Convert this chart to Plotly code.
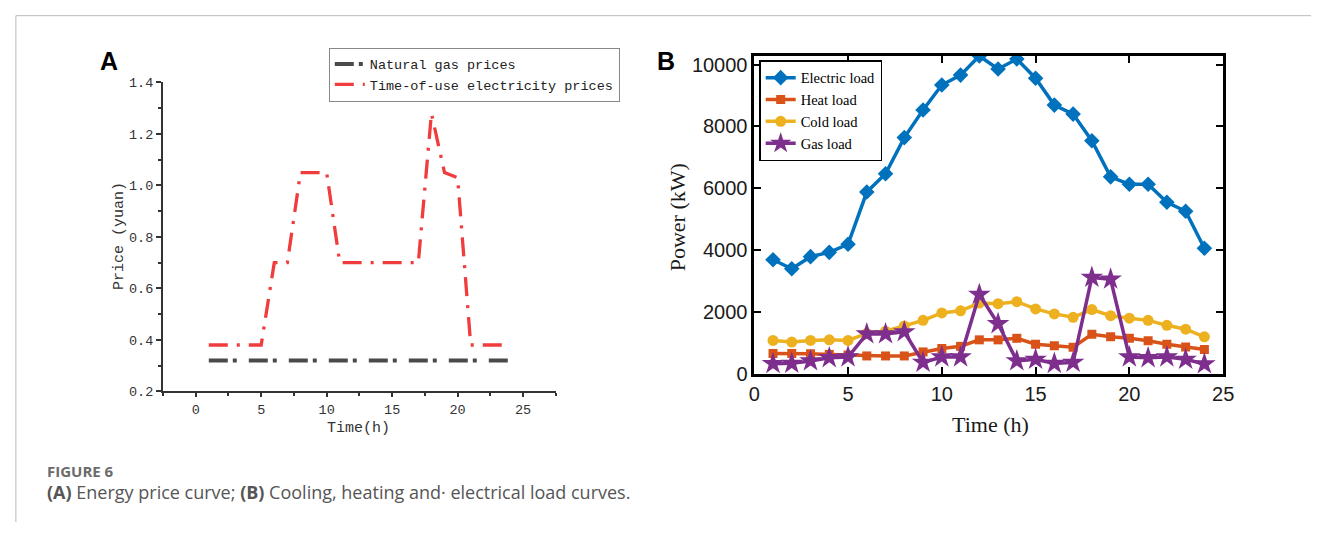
import plotly.graph_objects as go

W, H = 1322, 533

# ---------------- data ----------------
hours = list(range(1, 25))
gas_price = [0.32] * 24
elec_price = [0.38, 0.38, 0.38, 0.38, 0.38, 0.70, 0.70, 1.05, 1.05, 1.05, 0.70, 0.70,
              0.70, 0.70, 0.70, 0.70, 0.70, 1.28, 1.05, 1.03, 0.38, 0.38, 0.38, 0.38]

electric_load = [3690, 3400, 3790, 3930, 4190, 5880, 6470, 7640, 8530, 9340, 9660, 10280,
                 9860, 10180, 9560, 8690, 8400, 7540, 6370, 6130, 6130, 5550, 5260, 4060]
heat_load = [660, 660, 650, 630, 610, 580, 580, 580, 710, 820, 890, 1100,
             1100, 1150, 960, 910, 860, 1280, 1200, 1150, 1070, 960, 870, 790]
cold_load = [1080, 1030, 1080, 1100, 1080, 1310, 1380, 1550, 1730, 1970, 2040, 2290,
             2270, 2335, 2100, 1940, 1830, 2080, 1880, 1800, 1730, 1570, 1445, 1200]
gas_load = [330, 340, 420, 520, 545, 1290, 1290, 1360, 370, 545, 545, 2565,
            1620, 420, 470, 335, 370, 3120, 3060, 545, 520, 545, 470, 320]

price_xticks = [0, 5, 10, 15, 20, 25]
price_yticks = [0.2, 0.4, 0.6, 0.8, 1.0, 1.2, 1.4]
load_xticks = [0, 5, 10, 15, 20, 25]
load_yticks = [0, 2000, 4000, 6000, 8000, 10000]


def px(x):
    return x / W


def py(y):
    return 1 - y / H


MONO = "Liberation Mono"
SERIF = "Liberation Serif"
SANS = "Liberation Sans"

fig = go.Figure()

# ---------------- panel A ----------------
fig.add_trace(go.Scatter(
    x=hours, y=gas_price, mode="lines", name="Natural gas prices",
    line=dict(color="#4a4a4a", width=4, dash="19px,5px,4px,12px"),
    xaxis="x", yaxis="y", legend="legend"))
fig.add_trace(go.Scatter(
    x=hours, y=elec_price, mode="lines", name="Time-of-use electricity prices",
    line=dict(color="#f03c3c", width=3.3, dash="19px,9px,3px,9px"),
    xaxis="x", yaxis="y", legend="legend"))

# ---------------- panel B ----------------
blue, orange, yellow, purple = "#0072BD", "#D95319", "#EDB120", "#7E2F8E"
fig.add_trace(go.Scatter(
    x=hours, y=electric_load, mode="lines+markers", name="Electric load",
    line=dict(color=blue, width=3.5), marker=dict(symbol="diamond", size=12, color=blue),
    xaxis="x2", yaxis="y2", legend="legend2"))
fig.add_trace(go.Scatter(
    x=hours, y=heat_load, mode="lines+markers", name="Heat load",
    line=dict(color=orange, width=3.5), marker=dict(symbol="square", size=9, color=orange),
    xaxis="x2", yaxis="y2", legend="legend2"))
fig.add_trace(go.Scatter(
    x=hours, y=cold_load, mode="lines+markers", name="Cold load",
    line=dict(color=yellow, width=3.5), marker=dict(symbol="circle", size=11, color=yellow),
    xaxis="x2", yaxis="y2", legend="legend2"))
fig.add_trace(go.Scatter(
    x=hours, y=gas_load, mode="lines+markers", name="Gas load",
    line=dict(color=purple, width=3.5), marker=dict(symbol="star", size=17, color=purple),
    xaxis="x2", yaxis="y2", legend="legend2"))

axA = dict(showgrid=False, zeroline=False, showline=True, linecolor="#333333", linewidth=2,
           ticks="outside", tickcolor="#333333", tickwidth=1.5,
           tickfont=dict(family=MONO, size=13.5, color="#333333"))
axB = dict(showgrid=False, zeroline=False, showline=True, linecolor="#000000", linewidth=2.5,
           mirror="ticks", ticks="inside", ticklen=7, tickcolor="#000000", tickwidth=1.5,
           tickfont=dict(family=SANS, size=20, color="#1a1a1a"))

fig.update_layout(
    width=W, height=H, margin=dict(l=0, r=0, t=0, b=0),
    paper_bgcolor="white", plot_bgcolor="white",
    xaxis=dict(axA, domain=[px(159), px(557)], range=[-2.5, 27.5], anchor="y",
               tickvals=price_xticks, ticklen=4,
               minor=dict(ticks="outside", dtick=2.5, tick0=0, ticklen=3, tickcolor="#333333")),
    yaxis=dict(axA, domain=[py(398), py(79)], range=[0.2, 1.4], anchor="x",
               tickvals=price_yticks, tickformat=".1f", ticklen=5,
               minor=dict(ticks="outside", dtick=0.1, tick0=0.2, ticklen=3, tickcolor="#333333")),
    xaxis2=dict(axB, domain=[px(758), px(1233)], range=[0, 25], anchor="y2",
                tickvals=load_xticks),
    yaxis2=dict(axB, domain=[py(380), py(51.6)], range=[0, 10280], anchor="x2",
                tickvals=load_yticks, tickformat="d"),
    legend=dict(x=px(327), y=py(43), xanchor="left", yanchor="top",
                bgcolor="white", bordercolor="#888888", borderwidth=1,
                font=dict(family=MONO, size=13.5, color="#222222"),
                tracegroupgap=0, itemwidth=30),
    legend2=dict(x=px(763), y=py(56), xanchor="left", yanchor="top",
                 bgcolor="white", bordercolor="#000000", borderwidth=1.5,
                 font=dict(family=SERIF, size=14.5, color="#000000"),
                 tracegroupgap=0, itemwidth=30),
    showlegend=True,
)

ann = []
# panel letters
ann.append(dict(text="<b>A</b>", x=px(104), y=py(57), font=dict(family=SANS, size=25, color="black")))
ann.append(dict(text="<b>B</b>", x=px(669), y=py(57), font=dict(family=SANS, size=25, color="black")))
# panel A axis titles
ann.append(dict(text="Time(h)", x=px(357), y=py(436), font=dict(family=MONO, size=15, color="#333333")))
ann.append(dict(text="Price (yuan)", x=px(115), y=py(238), textangle=-90,
                font=dict(family=MONO, size=15, color="#333333")))
# panel B axis titles
ann.append(dict(text="Time (h)", x=px(997), y=py(432), font=dict(family=SERIF, size=22, color="#1a1a1a")))
ann.append(dict(text="Power (kW)", x=px(680), y=py(218), textangle=-90,
                font=dict(family=SERIF, size=22, color="#1a1a1a")))
for a in ann:
    a.update(xref="paper", yref="paper", showarrow=False, xanchor="center", yanchor="middle")
    fig.add_annotation(**a)

# caption
fig.add_annotation(text="<b>FIGURE 6</b>", x=px(40), y=py(480), xref="paper", yref="paper",
                   showarrow=False, xanchor="left", yanchor="middle",
                   font=dict(family="Open Sans", size=15, color="#6b6b6b"))
fig.add_annotation(text="<b>(A)</b> Energy price curve; <b>(B)</b> Cooling, heating and· electrical load curves.",
                   x=px(40), y=py(502.5), xref="paper", yref="paper",
                   showarrow=False, xanchor="left", yanchor="middle",
                   font=dict(family="Open Sans", size=18, color="#555555"))

# frame lines
fig.add_shape(type="line", xref="paper", yref="paper", x0=px(10), x1=1, y0=py(10), y1=py(10),
              line=dict(color="#bbbbbb", width=1))
fig.add_shape(type="line", xref="paper", yref="paper", x0=px(10), x1=px(10), y0=py(10), y1=0,
              line=dict(color="#bbbbbb", width=1))

fig.write_html("out.html")
